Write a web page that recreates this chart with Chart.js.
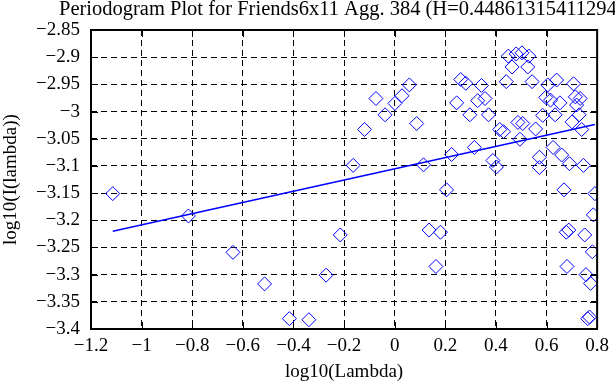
<!DOCTYPE html>
<html lang="en">
<head>
    <meta charset="UTF-8">
    <title>Periodogram Plot</title>
    <style>
        body { margin: 0; background: #fff; }
        #wrap { width: 615px; height: 385px; }
    </style>
</head>
<body>
    <div id="wrap">
        <canvas id="mychart" width="615" height="385"></canvas>
    </div>
    <script src="https://cdn.jsdelivr.net/npm/chart.js"></script>
    <script>
        // log10(Lambda) / log10(I(lambda)) pairs
        const lambdaLog = [
            -1.114, -0.815, -0.639, -0.514, -0.416, -0.339, -0.271, -0.215, -0.164, -0.119,
            -0.074, -0.038, 0.001, 0.029, 0.058, 0.087, 0.114, 0.136, 0.181, 0.163,
            0.205, 0.225, 0.245, 0.261, 0.281, 0.297, 0.315, 0.343, 0.328, 0.357,
            0.371, 0.388, 0.402, 0.415, 0.430, 0.441, 0.449, 0.480, 0.503, 0.530,
            0.464, 0.526, 0.487, 0.506, 0.495, 0.543, 0.557, 0.572, 0.572, 0.585,
            0.597, 0.605, 0.616, 0.634, 0.626, 0.640, 0.653, 0.660, 0.669, 0.691,
            0.678, 0.688, 0.681, 0.707, 0.714, 0.733, 0.719, 0.701, 0.729, 0.739,
            0.746, 0.751, 0.756, 0.763, 0.770, 0.774, 0.781, 0.785, 0.791
        ];
        const periodLog = [
            -3.151, -3.192, -3.259, -3.317, -3.381, -3.383, -3.301, -3.227, -3.099, -3.033,
            -2.976, -3.006, -2.985, -2.971, -2.951, -3.022, -3.098, -3.218, -3.222, -3.285,
            -3.144, -3.079, -2.984, -2.941, -2.948, -3.006, -3.066, -2.952, -2.980, -2.976,
            -3.006, -3.090, -3.102, -3.033, -3.037, -2.945, -2.898, -2.894, -2.892, -2.898,
            -2.918, -2.918, -3.020, -3.022, -3.051, -2.945, -3.032, -3.084, -3.103, -3.007,
            -2.974, -2.951, -2.979, -3.006, -3.066, -2.942, -2.984, -3.080, -3.144, -3.096,
            -3.222, -3.218, -3.285, -2.949, -2.973, -2.976, -2.988, -3.019, -3.006, -3.033,
            -3.099, -3.227, -3.300, -3.381, -3.378, -3.316, -3.258, -3.190, -3.151
        ];
        // fitted line ends
        const fitX = [-1.114, 0.791];
        const fitY = [-3.220, -3.024];

        const xTicks = [-1.2, -1, -0.8, -0.6, -0.4, -0.2, 0, 0.2, 0.4, 0.6, 0.8];
        const yTicks = [-3.4, -3.35, -3.3, -3.25, -3.2, -3.15, -3.1, -3.05, -3, -2.95, -2.9, -2.85];

        const titleText = 'Periodogram Plot for Friends6x11 Agg. 384 (H=0.448613154112946)';
        const serif = '"Liberation Serif", "Times New Roman", serif';

        function fmt(v) {
            let s = String(Math.round(v * 100) / 100);
            return s.replace('-', '\u2212');
        }

        // gnuplot style box, inward ticks and title
        const framePlugin = {
            id: 'frame',
            afterDatasetsDraw(chart) {
                const ctx = chart.ctx;
                const a = chart.chartArea;
                const xs = chart.scales.x, ys = chart.scales.y;
                ctx.save();
                ctx.strokeStyle = '#000';
                ctx.lineWidth = 1;
                ctx.beginPath();
                xTicks.forEach(t => {
                    const px = Math.round(xs.getPixelForValue(t)) + 0.5;
                    ctx.moveTo(px, a.bottom); ctx.lineTo(px, a.bottom - 7);
                    ctx.moveTo(px, a.top); ctx.lineTo(px, a.top + 7);
                });
                yTicks.forEach(t => {
                    const py = Math.round(ys.getPixelForValue(t)) + 0.5;
                    ctx.moveTo(a.left, py); ctx.lineTo(a.left + 7, py);
                    ctx.moveTo(a.right, py); ctx.lineTo(a.right - 7, py);
                });
                ctx.stroke();
                ctx.lineWidth = 2;
                ctx.strokeRect(a.left, a.top, a.right - a.left, a.bottom - a.top);
                ctx.restore();
            },
            afterDraw(chart) {
                const ctx = chart.ctx;
                ctx.save();
                ctx.fillStyle = '#000';
                ctx.font = '20.5px ' + serif;
                ctx.textBaseline = 'alphabetic';
                ctx.textAlign = 'left';
                ctx.fillText(titleText, 59, 15);
                ctx.restore();
            }
        };

        const points = lambdaLog.map((x, i) => ({ x: x, y: periodLog[i] }));
        const fit = fitX.map((x, i) => ({ x: x, y: fitY[i] }));

        const ctx = document.getElementById('mychart').getContext('2d');
        new Chart(ctx, {
            type: 'scatter',
            data: {
                datasets: [{
                    label: 'periodogram',
                    data: points,
                    pointStyle: 'rectRot',
                    pointRadius: 7,
                    borderColor: '#0000ff',
                    backgroundColor: 'rgba(0,0,0,0)',
                    borderWidth: 1
                }, {
                    type: 'line',
                    label: 'fit',
                    data: fit,
                    borderColor: '#0000ff',
                    borderWidth: 1.5,
                    pointRadius: 0,
                    showLine: true,
                    fill: false
                }]
            },
            plugins: [framePlugin],
            options: {
                responsive: false,
                animation: false,
                devicePixelRatio: 1,
                layout: { padding: { left: 0, right: 6, top: 30, bottom: 0 }, autoPadding: false },
                plugins: { legend: { display: false }, tooltip: { enabled: false } },
                scales: {
                    x: {
                        type: 'linear',
                        min: -1.2, max: 0.8,
                        afterBuildTicks(scale) { scale.ticks = xTicks.map(v => ({ value: v })); },
                        afterFit(scale) { scale.height = 56; },
                        ticks: {
                            callback: v => fmt(v),
                            color: '#000',
                            font: { family: serif, size: 19 },
                            padding: 6,
                            maxRotation: 0,
                            autoSkip: false
                        },
                        grid: { color: '#000', lineWidth: 1, drawTicks: false },
                        border: { display: false, dash: [6, 4] },
                        title: {
                            display: true,
                            text: 'log10(Lambda)',
                            color: '#000',
                            font: { family: serif, size: 19 },
                            padding: { top: 0, bottom: 2 }
                        }
                    },
                    y: {
                        type: 'linear',
                        min: -3.4, max: -2.85,
                        afterBuildTicks(scale) { scale.ticks = yTicks.map(v => ({ value: v })); },
                        afterFit(scale) { scale.width = 91; },
                        ticks: {
                            callback: v => fmt(v),
                            color: '#000',
                            font: { family: serif, size: 19 },
                            padding: 11,
                            autoSkip: false
                        },
                        grid: { color: '#000', lineWidth: 1, drawTicks: false },
                        border: { display: false, dash: [6, 4] },
                        title: {
                            display: true,
                            text: 'log10(I(lambda))',
                            color: '#000',
                            font: { family: serif, size: 19 },
                            padding: { top: 0, bottom: 0 }
                        }
                    }
                }
            }
        });
    </script>
</body>
</html>
